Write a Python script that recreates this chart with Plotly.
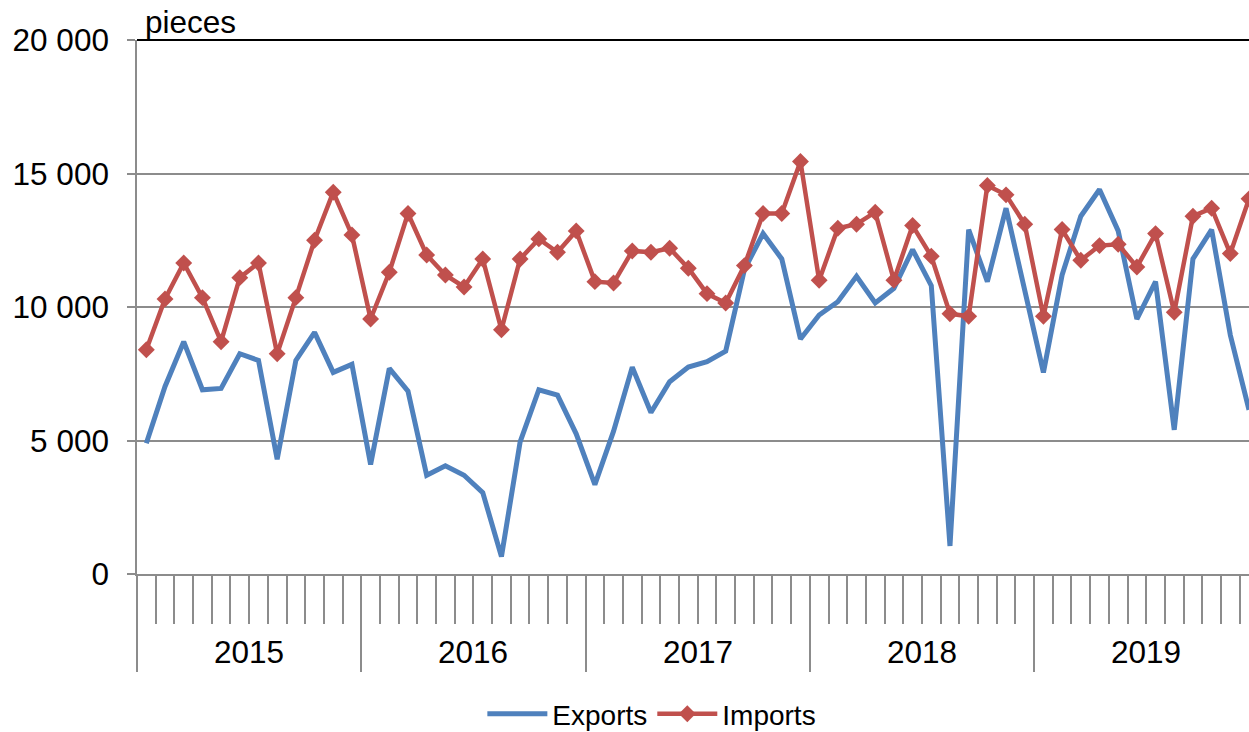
import plotly.graph_objects as go

years = [2015, 2016, 2017, 2018, 2019]
month_names = ["Jan", "Feb", "Mar", "Apr", "May", "Jun",
               "Jul", "Aug", "Sep", "Oct", "Nov", "Dec"]
months = [f"{m} {y}" for y in years for m in month_names]

exports = [
    4900, 7025, 8700, 6900, 6950, 8250, 8000, 4300, 8000, 9050, 7550, 7850,
    4100, 7700, 6850, 3700, 4050, 3700, 3050, 650, 4950, 6900, 6700, 5250,
    3350, 5350, 7750, 6050, 7200, 7750, 7950, 8350, 11400, 12750, 11800, 8800,
    9700, 10200, 11150, 10150, 10700, 12150, 10800, 1050, 12900, 10950, 13700, 10600,
    7550, 11200, 13400, 14400, 12850, 9550, 10950, 5400, 11800, 12900, 8950, 6150,
]
imports = [
    8400, 10300, 11650, 10350, 8700, 11100, 11650, 8250, 10350, 12500, 14300, 12700,
    9550, 11300, 13500, 11950, 11200, 10750, 11800, 9150, 11800, 12550, 12050, 12850,
    10950, 10900, 12100, 12050, 12200, 11450, 10500, 10150, 11550, 13500, 13500, 15450,
    11000, 12950, 13100, 13550, 11000, 13050, 11900, 9750, 9650, 14550, 14200, 13100,
    9650, 12900, 11750, 12300, 12350, 11500, 12750, 9800, 13400, 13700, 12000, 14050,
]
y_tickvals = [0, 5000, 10000, 15000, 20000]
y_ticktext = ["0", "5 000", "10 000", "15 000", "20 000"]

x_idx = list(range(len(months)))
FONT = "Liberation Sans, Arial, sans-serif"
GRID = "#8c8c8c"

fig = go.Figure()
fig.add_trace(go.Scatter(
    x=x_idx, y=exports, name="Exports", mode="lines",
    line=dict(color="#4F81BD", width=5), text=months,
    hovertemplate="%{text}: %{y}<extra>Exports</extra>",
))
fig.add_trace(go.Scatter(
    x=x_idx, y=imports, name="Imports", mode="lines+markers",
    line=dict(color="#C0504D", width=4.5),
    marker=dict(symbol="diamond", size=13, color="#C0504D"),
    text=months, hovertemplate="%{text}: %{y}<extra>Imports</extra>",
))

# year labels
for i, yr in enumerate(years):
    fig.add_annotation(x=i * 12 + 5.5, y=-0.146, xref="x", yref="paper",
                       text=str(yr), showarrow=False,
                       font=dict(size=31.5, color="black", family=FONT),
                       xanchor="center", yanchor="middle")

fig.add_annotation(x=0.005, y=1.034, xref="paper", yref="paper", text="pieces",
                   showarrow=False, font=dict(size=31.5, color="black", family=FONT),
                   xanchor="left", yanchor="middle")

# top border line
fig.add_shape(type="line", xref="paper", yref="paper", x0=0, x1=1, y0=1, y1=1,
              line=dict(color="black", width=2))

fig.update_layout(
    width=1249, height=732,
    margin=dict(l=137, r=0, t=40, b=158, autoexpand=False),
    plot_bgcolor="white", paper_bgcolor="white",
    font=dict(family=FONT, color="black"),
    showlegend=True,
    legend=dict(orientation="h", x=0.463, xanchor="center", y=-0.2624, yanchor="middle",
                font=dict(size=28, family=FONT), itemwidth=60),
    xaxis=dict(
        range=[-0.5, len(months) - 1], showgrid=False, zeroline=False,
        showline=True, linecolor=GRID, linewidth=1.5,
        tick0=-0.5, dtick=12, ticks="outside", ticklen=96, tickwidth=1.5,
        tickcolor=GRID, showticklabels=False,
        minor=dict(tick0=-0.5, dtick=1, ticks="outside", ticklen=48,
                   tickwidth=1.5, tickcolor=GRID, showgrid=False),
    ),
    yaxis=dict(
        range=[0, 20000], tickvals=y_tickvals, ticktext=y_ticktext,
        showgrid=True, gridcolor=GRID, gridwidth=1.5, zeroline=False,
        showline=True, linecolor=GRID, linewidth=1.5,
        ticks="outside", ticklen=8, tickwidth=1.5, tickcolor=GRID,
        tickfont=dict(size=31.5, family=FONT, color="black"),
        ticklabelstandoff=12,
    ),
)

fig.write_html("out.html", config={"displayModeBar": False},
               post_script="document.body.style.margin='0';document.body.style.overflow='hidden';")
